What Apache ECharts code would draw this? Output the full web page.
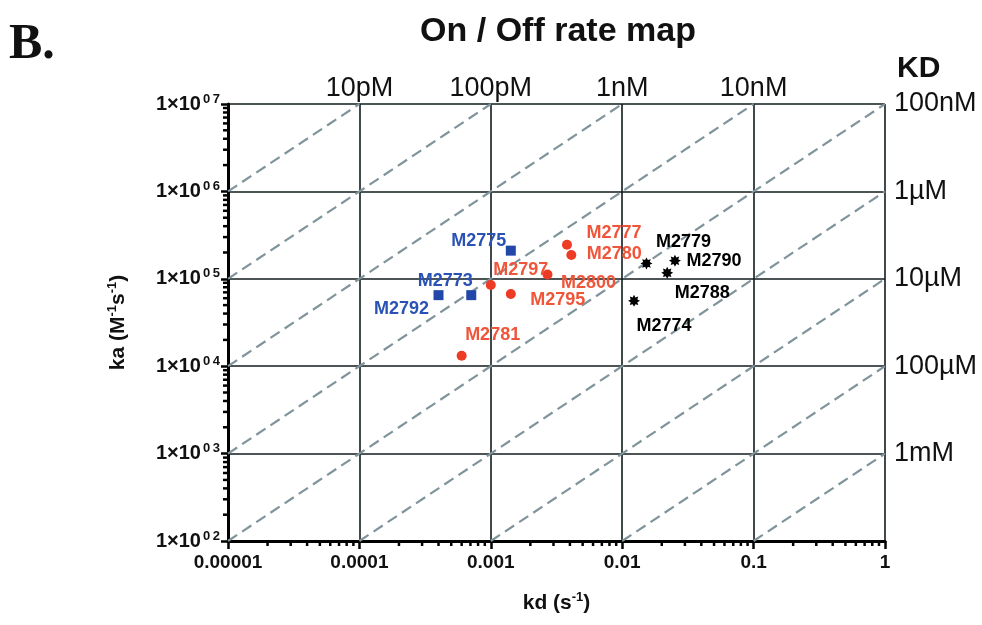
<!DOCTYPE html>
<html>
<head>
<meta charset="utf-8">
<script src="https://cdn.jsdelivr.net/npm/echarts@6/dist/echarts.min.js"></script>
<style>html,body{margin:0;padding:0;background:#fff;}#c{width:982px;height:625px;}</style>
</head>
<body>
<div id="c"></div>
<script>
// ---- data ----
const blueNames = ['M2775', 'M2773', 'M2792'];
const blueKd = [1.42e-3, 7.1e-4, 4.0e-4];
const blueKa = [2.1e5, 6.5e4, 6.5e4];

const redNames = ['M2777', 'M2780', 'M2797', 'M2800', 'M2795', 'M2781'];
const redKd = [3.8e-3, 4.1e-3, 1.0e-3, 2.7e-3, 1.42e-3, 6.0e-4];
const redKa = [2.45e5, 1.87e5, 8.5e4, 1.12e5, 6.7e4, 1.32e4];

const blackNames = ['M2779', 'M2790', 'M2788', 'M2774'];
const blackKd = [1.53e-2, 2.52e-2, 2.2e-2, 1.23e-2];
const blackKa = [1.5e5, 1.61e5, 1.17e5, 5.6e4];

// iso-affinity lines (KD = kd / ka, in M)
const kdLineValues = [1e-11, 1e-10, 1e-9, 1e-8, 1e-7, 1e-6, 1e-5, 1e-4, 1e-3];

// tick labels
const xTickLabels = ['0.00001', '0.0001', '0.001', '0.01', '0.1', '1'];
const yTickExp = ['02', '03', '04', '05', '06', '07'];
const topKdLabels = ['', '10pM', '100pM', '1nM', '10nM', ''];
const rightKdLabels = ['', '1mM', '100\u00b5M', '10\u00b5M', '1\u00b5M', '100nM'];

// ---- styles (kept separate from data) ----
const labelOffsets = {
  M2775: [-32, -10], M2773: [-26, -14], M2792: [-37, 14],
  M2777: [47, -12], M2780: [43, -1], M2797: [30, -15], M2800: [41, 9], M2795: [47, 6], M2781: [31, -21],
  M2779: [37, -21], M2790: [39, 0], M2788: [35, 20], M2774: [30, 25]
};
const FONT = '"Liberation Sans", Arial, Helvetica, sans-serif';
const KD_MIN = 1e-5, KD_MAX = 1, KA_MIN = 1e2, KA_MAX = 1e7;
const GRID_COLOR = '#111b1e';

function starPath() {
  let pts = [];
  const n = 8;
  for (let i = 0; i < n * 2; i++) {
    const r = i % 2 === 0 ? 10 : 6;
    const a = Math.PI * i / n - Math.PI / 2;
    pts.push((10 + r * Math.cos(a)).toFixed(2) + ' ' + (10 + r * Math.sin(a)).toFixed(2));
  }
  return 'path://M' + pts.join(' L') + ' Z';
}

function pointsOf(names, kd, ka) {
  return names.map((n, i) => ({
    name: n, value: [kd[i], ka[i]],
    label: { offset: labelOffsets[n] }
  }));
}

const decadeIdx = (v, base) => Math.round(Math.log10(v)) - base;

// minor tick positions
function minorTicks(lo, hi) {
  const out = [];
  for (let d = Math.log10(lo); d < Math.log10(hi); d++) {
    for (let m = 2; m <= 9; m++) out.push(m * Math.pow(10, d));
  }
  return out;
}

const kdLineSeries = kdLineValues.map(K => {
  const x1 = Math.max(KD_MIN, K * KA_MIN);
  const x2 = Math.min(KD_MAX, K * KA_MAX);
  return {
    type: 'line', xAxisIndex: 0, yAxisIndex: 0, silent: true, symbol: 'none',
    z: 2,
    data: [[x1, x1 / K], [x2, x2 / K]],
    lineStyle: { color: '#7f949b', width: 2.2, type: [11, 6] }
  };
});

const labelBase = { show: true, position: 'inside', formatter: '{b}', fontFamily: FONT, fontWeight: 'bold', fontSize: 18 };

const chart = echarts.init(document.getElementById('c'), null, { renderer: 'canvas' });
chart.setOption({
  backgroundColor: '#ffffff',
  animation: false,
  title: {
    text: 'On / Off rate map', left: 553, top: 10, textAlign: 'center',
    textStyle: { fontFamily: FONT, fontWeight: 'bold', fontSize: 34, color: '#111' }
  },
  graphic: [
    { type: 'text', left: 9, top: 20, style: { text: 'B.', font: 'bold 50px "Liberation Serif", "Times New Roman", serif', fill: '#111' } },
    { type: 'text', left: 897, top: 54, style: { text: 'KD', font: 'bold 30px ' + FONT, fill: '#111' } }
  ],
  grid: { left: 228, right: 97, top: 104, bottom: 84, containLabel: false },
  xAxis: [
    {
      type: 'log', logBase: 10, min: KD_MIN, max: KD_MAX, position: 'bottom',
      name: 'kd (s{sup|-1})', nameLocation: 'middle', nameGap: 50,
      nameTextStyle: { fontFamily: FONT, fontWeight: 'bold', fontSize: 21, color: '#111',
        rich: { sup: { fontSize: 13, fontWeight: 'bold', fontFamily: FONT, padding: [0, 0, 11, 0], color: '#111' } } },
      axisLine: { show: true, lineStyle: { color: '#000', width: 3 } },
      axisTick: { show: true, inside: false, length: 8, lineStyle: { color: '#000', width: 2.5 } },
      axisLabel: { margin: 12, fontFamily: FONT, fontWeight: 'bold', fontSize: 19, color: '#111',
        formatter: v => xTickLabels[decadeIdx(v, -5)] },
      splitLine: { show: true, lineStyle: { color: GRID_COLOR, width: 1.6 } },
      minorTick: { show: false }
    },
    {
      type: 'log', logBase: 10, min: KD_MIN, max: KD_MAX, position: 'top',
      axisLine: { show: false }, axisTick: { show: false }, splitLine: { show: false },
      axisLabel: { margin: 2, fontFamily: FONT, fontSize: 27, color: '#111',
        formatter: v => topKdLabels[decadeIdx(v, -5)] }
    }
  ],
  yAxis: [
    {
      type: 'log', logBase: 10, min: KA_MIN, max: KA_MAX, position: 'left',
      name: 'ka (M{sup|-1}s{sup|-1})', nameLocation: 'middle', nameGap: 98, nameRotate: 90,
      nameTextStyle: { fontFamily: FONT, fontWeight: 'bold', fontSize: 21, color: '#111',
        rich: { sup: { fontSize: 13, fontWeight: 'bold', fontFamily: FONT, padding: [0, 0, 11, 0], color: '#111' } } },
      axisLine: { show: true, lineStyle: { color: '#000', width: 3 } },
      axisTick: { show: true, inside: false, length: 7, lineStyle: { color: '#000', width: 2.5 } },
      axisLabel: { margin: 8, color: '#111',
        formatter: v => '{m|1\u00d710}{e|' + yTickExp[decadeIdx(v, 2)].split('').join('\u2009') + '}',
        rich: {
          m: { fontFamily: FONT, fontWeight: 'bold', fontSize: 20, color: '#111' },
          e: { fontFamily: FONT, fontWeight: 'bold', fontSize: 13, color: '#111', padding: [0, 0, 10, 2] }
        } },
      splitLine: { show: true, lineStyle: { color: GRID_COLOR, width: 1.6 } }
    },
    {
      type: 'log', logBase: 10, min: KA_MIN, max: KA_MAX, position: 'right',
      axisLine: { show: false }, axisTick: { show: false }, splitLine: { show: false },
      axisLabel: { margin: 9, fontFamily: FONT, fontSize: 27, color: '#111',
        formatter: v => rightKdLabels[decadeIdx(v, 2)] }
    }
  ],
  series: [
    ...kdLineSeries,
    {
      type: 'custom', xAxisIndex: 0, yAxisIndex: 0, silent: true, clip: false, z: 5,
      data: minorTicks(KD_MIN, KD_MAX).map(v => [v]),
      renderItem: (params, api) => {
        const p = api.coord([api.value(0), KA_MIN]);
        return { type: 'line', shape: { x1: p[0], y1: p[1] + 1, x2: p[0], y2: p[1] + 5 },
          style: { stroke: '#000', lineWidth: 2.5 } };
      }
    },
    {
      type: 'custom', xAxisIndex: 0, yAxisIndex: 0, silent: true, clip: false, z: 5,
      data: minorTicks(KA_MIN, KA_MAX).map(v => [KD_MIN, v]),
      renderItem: (params, api) => {
        const p = api.coord([KD_MIN, api.value(1)]);
        return { type: 'line', shape: { x1: p[0] - 1, y1: p[1], x2: p[0] - 5, y2: p[1] },
          style: { stroke: '#000', lineWidth: 2.5 } };
      }
    },
    {
      type: 'scatter', name: 'blue', symbol: 'rect', symbolSize: 10, z: 10,
      itemStyle: { color: '#2148a8', opacity: 1 },
      label: Object.assign({ color: '#2a52b4' }, labelBase),
      data: pointsOf(blueNames, blueKd, blueKa)
    },
    {
      type: 'scatter', name: 'red', symbol: 'circle', symbolSize: 10, z: 10,
      itemStyle: { color: '#ee3b25', opacity: 1 },
      label: Object.assign({ color: '#f0553a' }, labelBase),
      data: pointsOf(redNames, redKd, redKa)
    },
    {
      type: 'scatter', name: 'black', symbol: starPath(), symbolSize: 12, z: 10,
      itemStyle: { color: '#000', opacity: 1 },
      label: Object.assign({ color: '#000' }, labelBase),
      data: pointsOf(blackNames, blackKd, blackKa)
    }
  ]
});
</script>
</body>
</html>
